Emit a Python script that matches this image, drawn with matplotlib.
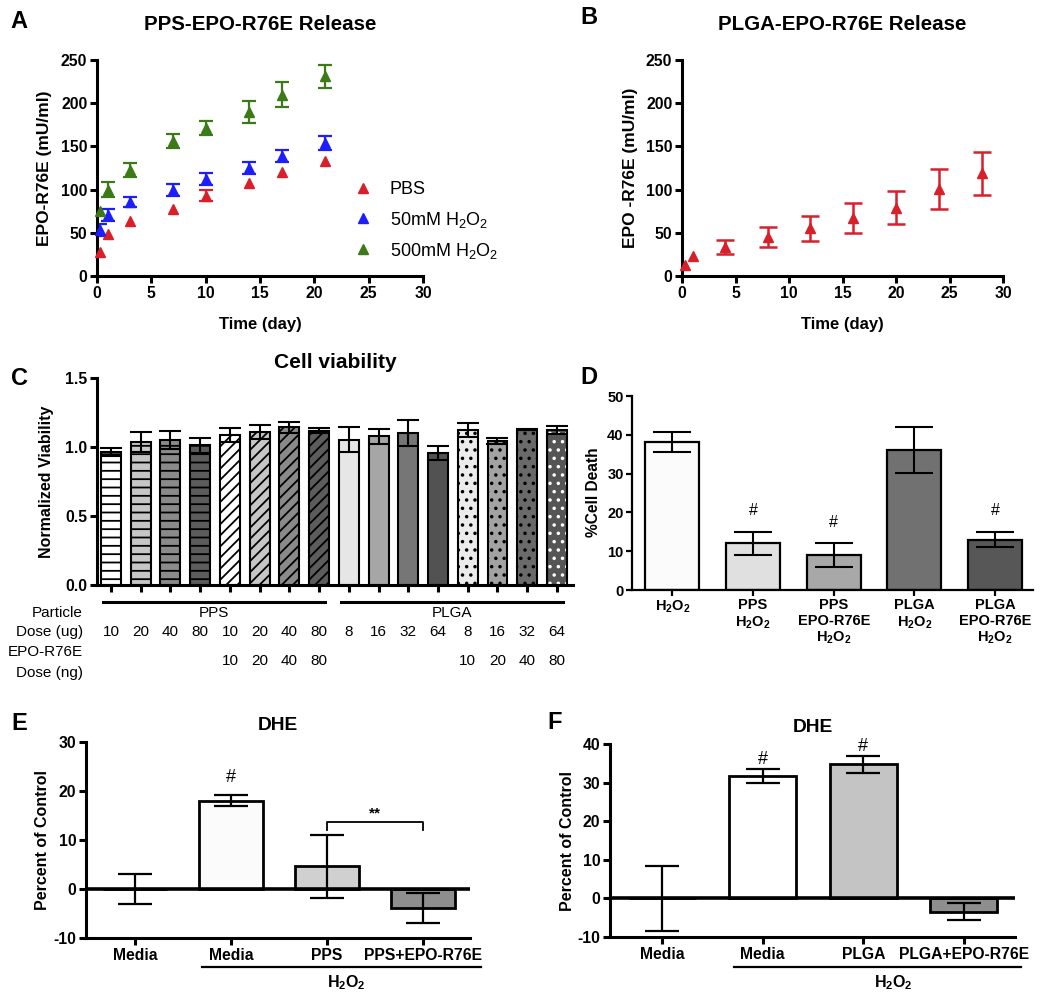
import matplotlib
matplotlib.use('Agg')
import matplotlib.pyplot as plt
import matplotlib.transforms as mtransforms
from matplotlib.lines import Line2D
import numpy as np

plt.rcParams['font.family'] = ['Liberation Sans', 'DejaVu Sans']
plt.rcParams['mathtext.fontset'] = 'custom'
plt.rcParams['mathtext.rm'] = 'Liberation Sans'
plt.rcParams['mathtext.bf'] = 'Liberation Sans:bold'
plt.rcParams['hatch.linewidth'] = 1.3
plt.rcParams['axes.unicode_minus'] = False

W, H = 1050, 997

# ---------------- data ----------------
# A: PPS-EPO-R76E release
a_time = [0.25, 1, 3, 7, 10, 14, 17, 21]
a_pbs = [28, 49, 64, 78, 93, 108, 120, 133]
a_pbs_err = [0, 0, 0, 0, 6, 0, 0, 0]
a_50 = [53, 71, 86, 100, 112, 125, 139, 154]
a_50_err = [7, 7, 6, 7, 7, 7, 7, 8]
a_500 = [75, 100, 123, 156, 171, 190, 210, 231]
a_500_err = [0, 9, 8, 8, 8, 13, 14, 13]
a_series = ['PBS', r'50mM H$_\mathrm{2}$O$_\mathrm{2}$', r'500mM H$_\mathrm{2}$O$_\mathrm{2}$']

# B: PLGA-EPO-R76E release
b_time = [0.25, 1, 4, 8, 12, 16, 20, 24, 28]
b_val = [13, 23, 34, 45, 55, 67, 79, 101, 119]
b_err = [0, 0, 8, 12, 15, 17, 19, 23, 25]

# C: cell viability
c_particle = ['PPS', 'PLGA']
c_dose_ug = ['10', '20', '40', '80', '10', '20', '40', '80',
             '8', '16', '32', '64', '8', '16', '32', '64']
c_epo_ng = ['', '', '', '', '10', '20', '40', '80',
            '', '', '', '', '10', '20', '40', '80']
c_val = [0.963, 1.036, 1.048, 1.011, 1.089, 1.110, 1.142, 1.118,
         1.052, 1.077, 1.103, 0.958, 1.123, 1.043, 1.125, 1.125]
c_err = [0.03, 0.07, 0.065, 0.055, 0.05, 0.05, 0.04, 0.02,
         0.09, 0.055, 0.095, 0.05, 0.05, 0.02, 0.005, 0.03]

# D: % cell death
d_labels = [r'H$_\mathbf{2}$O$_\mathbf{2}$',
            'PPS\n' + r'H$_\mathbf{2}$O$_\mathbf{2}$',
            'PPS\nEPO-R76E\n' + r'H$_\mathbf{2}$O$_\mathbf{2}$',
            'PLGA\n' + r'H$_\mathbf{2}$O$_\mathbf{2}$',
            'PLGA\nEPO-R76E\n' + r'H$_\mathbf{2}$O$_\mathbf{2}$']
d_val = [38.1, 12.0, 9.0, 36.1, 13.0]
d_err = [2.5, 3.0, 3.0, 6.0, 2.0]
d_sig = ['', '#', '#', '', '#']

# E: DHE PPS
e_labels = ['Media', 'Media', 'PPS', 'PPS+EPO-R76E']
e_val = [0.0, 18.0, 4.6, -3.9]
e_err = [3.0, 1.1, 6.5, 3.0]
e_sig = ['', '#', '', '']
e_pair = (2, 3, '**')

# F: DHE PLGA
f_labels = ['Media', 'Media', 'PLGA', 'PLGA+EPO-R76E']
f_val = [0.0, 31.7, 34.7, -3.4]
f_err = [8.5, 1.7, 2.1, 2.2]
f_sig = ['', '#', '#', '']

h2o2_bold = r'H$_\mathbf{2}$O$_\mathbf{2}$'

# ---------------- styles ----------------
RED = '#d7202a'
BLUE = '#1d1dff'
GREEN = '#3b7a16'
c_face = ['#ffffff', '#c6c6c6', '#8a8a8a', '#5c5c5c',
          '#ffffff', '#c6c6c6', '#8a8a8a', '#5c5c5c',
          '#e6e6e6', '#a6a6a6', '#767676', '#525252',
          '#ececec', '#a2a2a2', '#6a6a6a', '#555555']
c_hatch = ['--'] * 4 + ['///'] * 4 + [''] * 4 + ['..'] * 4
c_hcol = ['k'] * 15 + ['white']
d_face = ['#fbfbfb', '#e0e0e0', '#a8a8a8', '#717171', '#575757']
e_face = ['#ffffff', '#fbfbfb', '#d0d0d0', '#8e8e8e']
f_face = ['#ffffff', '#ffffff', '#c4c4c4', '#8e8e8e']

fig = plt.figure(figsize=(W / 100, H / 100), dpi=100)


def add_ax(l, t, r, b):
    return fig.add_axes([l / W, 1 - b / H, (r - l) / W, (b - t) / H])


def ftext(px, py, s, **kw):
    return fig.text(px / W, 1 - py / H, s, **kw)


def style(ax, lw=2.2, fs=11.3, tl=5):
    for s in ['top', 'right']:
        ax.spines[s].set_visible(False)
    for s in ['left', 'bottom']:
        ax.spines[s].set_linewidth(lw)
    ax.tick_params(width=lw, length=tl, labelsize=fs, pad=2)
    for lab in ax.get_xticklabels() + ax.get_yticklabels():
        lab.set_fontweight('bold')


LETTER = dict(fontsize=17, fontweight='bold', ha='center', va='center',
              family=['Liberation Sans Narrow', 'Liberation Sans'])

# ---------------- A ----------------
axA = add_ax(97, 60, 423, 276)
for vals, errs, col, lab in [(a_pbs, a_pbs_err, RED, a_series[0]),
                             (a_50, a_50_err, BLUE, a_series[1]),
                             (a_500, a_500_err, GREEN, a_series[2])]:
    t = np.array(a_time)
    v = np.array(vals, dtype=float)
    e = np.array(errs, dtype=float)
    m = e > 0
    axA.errorbar(t[m], v[m], yerr=e[m], fmt='none', ecolor=col,
                 elinewidth=1.6, capsize=5, capthick=1.6, zorder=2)
    axA.plot(t, v, '^', color=col, ms=7.5, label=lab, zorder=3,
             clip_on=False, mec=col)
axA.set_xlim(0, 30)
axA.set_ylim(0, 250)
axA.set_xticks(range(0, 31, 5))
axA.set_yticks(range(0, 251, 50))
style(axA)
axA.legend(loc='center left', bbox_to_anchor=(352 / W, 1 - 221 / H),
           bbox_transform=fig.transFigure, frameon=False, fontsize=13,
           handlelength=1.2, handletextpad=0.9, labelspacing=0.62,
           borderpad=0, borderaxespad=0)
ftext(260, 24, 'PPS-EPO-R76E Release', fontsize=14.8, fontweight='bold',
      ha='center', va='center')
ftext(260, 324, 'Time (day)', fontsize=12, fontweight='bold', ha='center', va='center')
ftext(45, 168, 'EPO-R76E (mU/ml)', fontsize=12.5, fontweight='bold', ha='center',
      va='center', rotation=90)
ftext(19, 21, 'A', **LETTER)

# ---------------- B ----------------
axB = add_ax(682, 60, 1003, 276)
t = np.array(b_time)
v = np.array(b_val, dtype=float)
e = np.array(b_err, dtype=float)
m = e > 0
axB.errorbar(t[m], v[m], yerr=e[m], fmt='none', ecolor=RED, elinewidth=1.8,
             capsize=6.5, capthick=1.8, zorder=2)
axB.plot(t, v, '^', color=RED, ms=7.5, zorder=3, clip_on=False)
axB.set_xlim(0, 30)
axB.set_ylim(0, 250)
axB.set_xticks(range(0, 31, 5))
axB.set_yticks(range(0, 251, 50))
style(axB)
ftext(842, 24, 'PLGA-EPO-R76E Release', fontsize=14.8, fontweight='bold',
      ha='center', va='center')
ftext(842, 324, 'Time (day)', fontsize=12, fontweight='bold', ha='center', va='center')
ftext(630, 168, 'EPO -R76E (mU/ml)', fontsize=12.5, fontweight='bold', ha='center',
      va='center', rotation=90)
ftext(589, 18, 'B', **LETTER)

# ---------------- C ----------------
axC = add_ax(97, 378, 573, 585)
xc = np.arange(len(c_val))
fill = axC.bar(xc, c_val, width=0.67, color=c_face, linewidth=0, zorder=2)
for p, h, hc in zip(fill, c_hatch, c_hcol):
    p.set_hatch(h)
    p.set_edgecolor(hc)
axC.bar(xc, c_val, width=0.67, facecolor='none', edgecolor='k', linewidth=1.5, zorder=3)
axC.errorbar(xc, c_val, yerr=c_err, fmt='none', ecolor='k', elinewidth=1.5,
             capsize=8, capthick=1.5, zorder=4)
axC.set_xlim(-0.47, 15.54)
axC.set_ylim(0, 1.5)
axC.set_yticks([0, 0.5, 1.0, 1.5])
axC.set_yticklabels(['0.0', '0.5', '1.0', '1.5'])
axC.set_xticks(xc)
axC.set_xticklabels([])
style(axC)
ftext(335, 362, 'Cell viability', fontsize=15, fontweight='bold', ha='center', va='center')
ftext(47, 482, 'Normalized Viability', fontsize=11.5, fontweight='bold', ha='center',
      va='center', rotation=90)
ftext(19, 378, 'C', **LETTER)

trC = mtransforms.blended_transform_factory(axC.transData, fig.transFigure)
TBL = dict(fontsize=11, ha='center', va='center', transform=trC)
ngrp = len(c_particle)
per = len(c_val) // ngrp
for g, name in enumerate(c_particle):
    x0 = g * per - 0.28
    x1 = (g + 1) * per - 1 + 0.2
    axC.add_line(Line2D([x0, x1], [1 - 602 / H] * 2, transform=trC, color='k',
                        lw=2.2, clip_on=False))
    axC.text((x0 + x1) / 2, 1 - 613 / H, name, **TBL)
for i in range(len(c_val)):
    axC.text(xc[i], 1 - 632 / H, c_dose_ug[i], **TBL)
    if c_epo_ng[i]:
        axC.text(xc[i], 1 - 661 / H, c_epo_ng[i], **TBL)
ftext(83, 613, 'Particle', fontsize=11, ha='right', va='center')
ftext(83, 632, 'Dose (ug)', fontsize=11, ha='right', va='center')
ftext(83, 652, 'EPO-R76E', fontsize=11, ha='right', va='center')
ftext(83, 673, 'Dose (ng)', fontsize=11, ha='right', va='center')

# ---------------- D ----------------
axD = add_ax(632, 396, 1033, 590)
xd = np.arange(len(d_val))
axD.bar(xd, d_val, width=0.67, color=d_face, edgecolor='k', linewidth=1.6, zorder=2)
axD.errorbar(xd, d_val, yerr=d_err, fmt='none', ecolor='k', elinewidth=1.5,
             capsize=13.5, capthick=1.5, zorder=3)
for i, s in enumerate(d_sig):
    if s:
        axD.annotate(s, (xd[i], d_val[i] + d_err[i]), xytext=(0, 15),
                     textcoords='offset points', ha='center', va='center',
                     fontsize=11.5)
axD.set_xlim(-0.5, 4.47)
axD.set_ylim(0, 50)
axD.set_yticks(range(0, 51, 10))
axD.set_xticks(xd)
axD.set_xticklabels(d_labels, linespacing=1.15)
style(axD, lw=1.6, fs=10.5, tl=4)
ftext(593, 492, '%Cell Death', fontsize=11.2, fontweight='bold', ha='center',
      va='center', rotation=90)
ftext(589, 377, 'D', **LETTER)


# ---------------- E / F ----------------
def dhe(ax, labels, vals, errs, faces, sig, sig_off, ylim, yticks, line_x, h2x):
    x = np.arange(len(vals))
    ax.bar(x, vals, width=0.67, color=faces, edgecolor='k', linewidth=2, zorder=2)
    ax.errorbar(x, vals, yerr=errs, fmt='none', ecolor='k', elinewidth=1.6,
                capsize=12.5, capthick=1.6, zorder=3)
    ax.axhline(0, color='k', lw=2.6, zorder=4)
    for i, s in enumerate(sig):
        if s:
            ax.annotate(s, (x[i], vals[i] + errs[i]), xytext=(0, sig_off),
                        textcoords='offset points', ha='center', va='bottom',
                        fontsize=13)
    ax.set_ylim(*ylim)
    ax.set_yticks(yticks)
    ax.set_xticks(x)
    ax.set_xticklabels(labels)
    style(ax, lw=2.2, fs=11.3, tl=5)
    tr = mtransforms.blended_transform_factory(ax.transData, fig.transFigure)
    ax.add_line(Line2D(line_x, [1 - 967 / H] * 2, transform=tr, color='k',
                       lw=1.6, clip_on=False))
    ax.text(h2x, 1 - 983 / H, h2o2_bold, transform=tr, fontsize=11.5,
            fontweight='bold', ha='center', va='center')
    return x


axE = add_ax(86, 742, 470, 938)
axE.set_xlim(-0.51, 3.49)
xe = dhe(axE, e_labels, e_val, e_err, e_face, e_sig, 7, (-10, 30),
         range(-10, 31, 10), [0.70, 3.6], 2.2)
# significance bracket
i0, i1, star = e_pair
top = max(e_val[i0] + e_err[i0], e_val[i1] + e_err[i1])
yb = top + 2.5
axE.plot([xe[i0], xe[i0], xe[i1], xe[i1]], [yb - 1.6, yb, yb, yb - 1.6],
         color='k', lw=1.3, zorder=5)
axE.text((xe[i0] + xe[i1]) / 2, yb + 0.4, star, ha='center', va='bottom',
         fontsize=11, fontweight='bold')
ftext(278, 725, 'DHE', fontsize=13.8, fontweight='bold', ha='center', va='center')
ftext(43, 840, 'Percent of Control', fontsize=11.5, fontweight='bold', ha='center',
      va='center', rotation=90)
ftext(19, 723, 'E', **LETTER)

axF = add_ax(610, 744, 1015, 937)
axF.set_xlim(-0.52, 3.51)
dhe(axF, f_labels, f_val, f_err, f_face, f_sig, 1, (-10, 40),
    range(-10, 41, 10), [0.715, 3.57], 2.3)
ftext(813, 727, 'DHE', fontsize=13.8, fontweight='bold', ha='center', va='center')
ftext(567, 841, 'Percent of Control', fontsize=11.5, fontweight='bold', ha='center',
      va='center', rotation=90)
ftext(555, 722, 'F', **LETTER)

fig.savefig('out.png', dpi=100)
